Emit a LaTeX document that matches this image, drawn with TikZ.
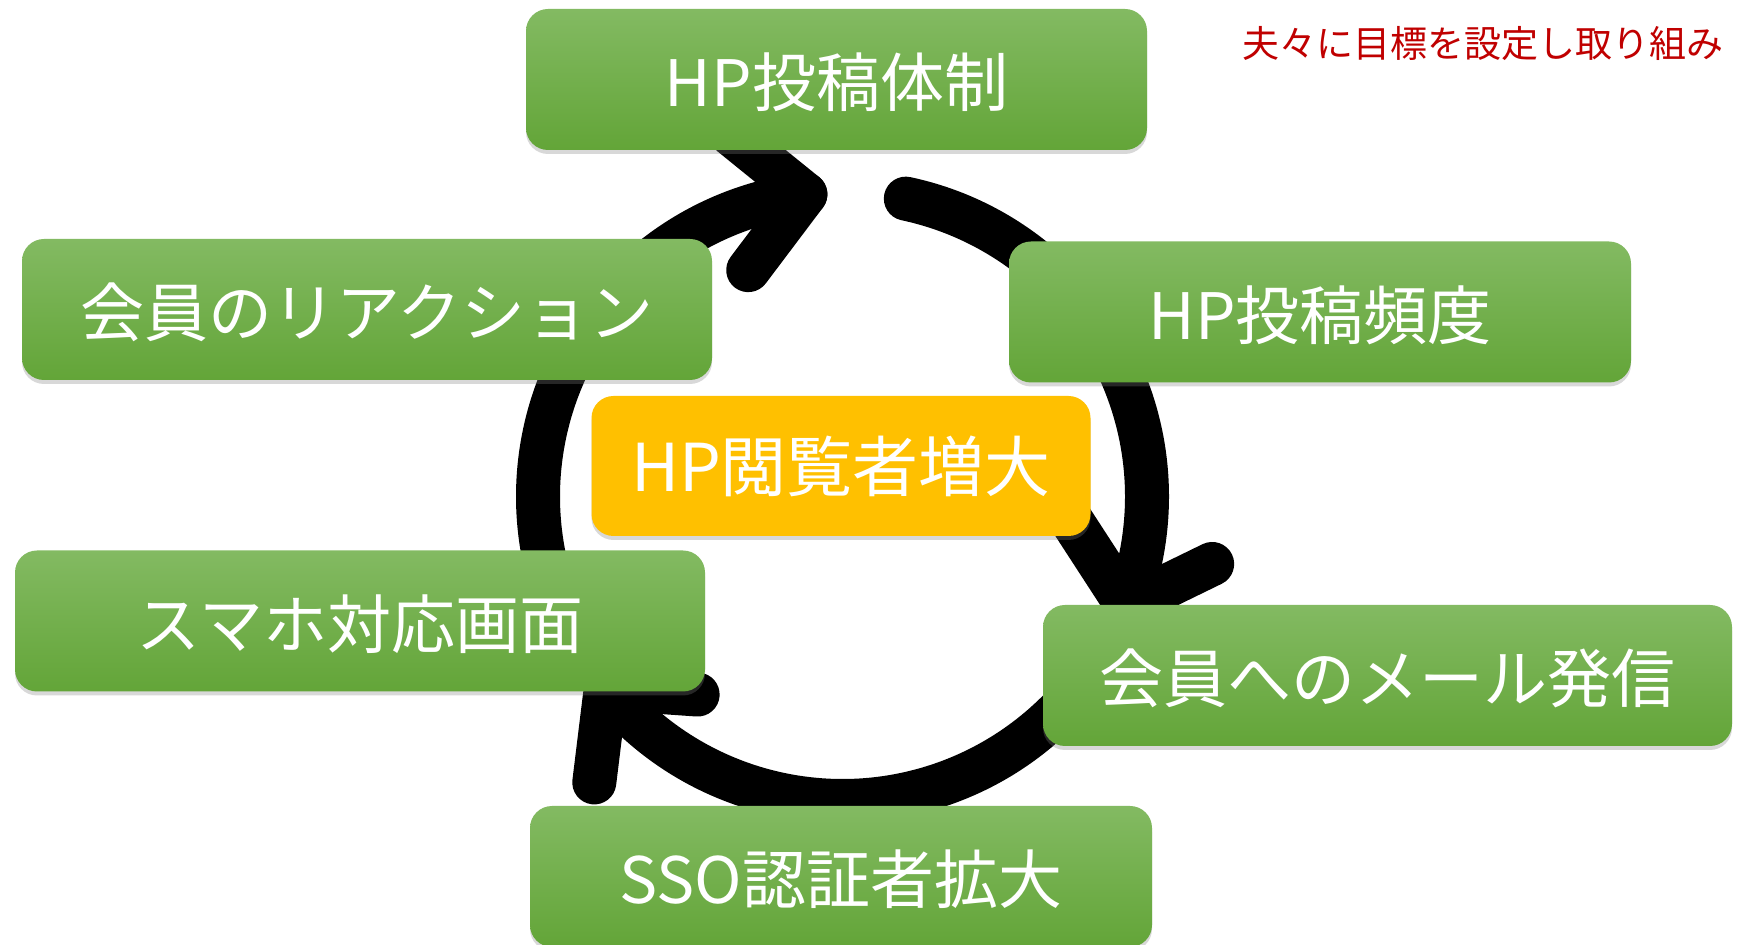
\documentclass[tikz,border=0pt]{standalone}
\usepackage{fontspec}
\setmainfont{Noto Sans CJK JP}
\usetikzlibrary{calc,shadows}
\definecolor{grtop}{RGB}{131,186,98}
\definecolor{grbot}{RGB}{99,165,56}
\definecolor{goalyellow}{RGB}{255,192,0}
\definecolor{notered}{RGB}{192,0,0}
\begin{document}
\begin{tikzpicture}
[x=1pt,y=1pt]
\tikzstyle{ring}=[line width=44pt,line cap=round,line join=round]
\tikzstyle{stage}=[rounded corners=22pt,minimum height=141pt,inner sep=0pt,text=white,
    top color=grtop,bottom color=grbot,font=\fontsize{64}{70}\selectfont,
    text height=58pt,text depth=3pt,
    drop shadow={shadow xshift=0pt,shadow yshift=-4pt,opacity=0.3}]
\tikzstyle{goal}=[rounded corners=22pt,minimum height=140pt,minimum width=499pt,inner sep=0pt,
    text=white,fill=goalyellow,font=\fontsize{66}{72}\selectfont,
    text height=54pt,text depth=3.4pt,
    drop shadow={shadow xshift=0pt,shadow yshift=-4pt,opacity=0.3}]
\tikzstyle{note}=[inner sep=0pt,text=notered,font=\fontsize{37}{42}\selectfont]
\useasboundingbox (0,0) rectangle (1743,945);
\fill[white] (0,0) rectangle (1743,945);
\coordinate (c) at (842.5,448.5);
\foreach \s/\e/\p/\q/\l in {78/-21/123/26/115,-38/-141/356/263/92,202/97/141/233/95} {
    \draw[ring] ($(c)+(\s:304.5)$) arc[start angle=\s,end angle=\e,radius=304.5pt];
    \draw[ring] ($(c)+(\e:304.5)+(\p:\l)$) -- ($(c)+(\e:304.5)$) -- ++(\q:95);
}
\node[stage,minimum width=621pt] (post) at (836.5,865.5) {HP投稿体制};
\node[stage,minimum width=690pt] (react) at (367,635.5) {会員のリアクション};
\node[stage,minimum width=622pt] (freq) at (1320,633) {HP投稿頻度};
\node[stage,minimum width=690pt] (phone) at (360,324) {スマホ対応画面};
\node[stage,minimum width=689pt] (mail) at (1387.5,269.5) {会員へのメール発信};
\node[stage,minimum width=622pt] (sso) at (841,68.5) {SSO認証者拡大};
\node[goal] (target) at (841,479) {HP閲覧者増大};
\node[note,anchor=east] (memo) at (1724,901) {夫々に目標を設定し取り組み};
\end{tikzpicture}
\end{document}
